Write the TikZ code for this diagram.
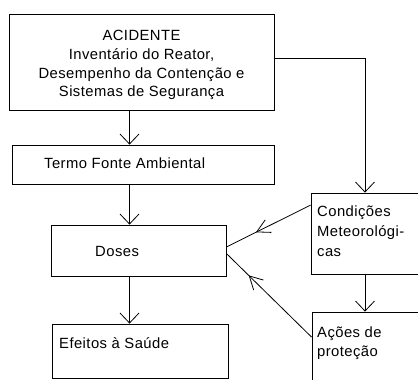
\documentclass[tikz,border=0pt]{standalone}
\usepackage{fontspec}
\setmainfont{Liberation Sans}[LetterSpace=3]
\usetikzlibrary{arrows.meta,decorations.markings,calc}
\begin{document}
\begin{tikzpicture}[x=1pt,y=-1pt,
  box/.style={draw,line width=0.8pt,inner sep=0pt,rectangle},
  txt/.style={anchor=base west,inner sep=0pt,font=\fontsize{14.8}{18}\selectfont},
  ctxt/.style={anchor=base,inner sep=0pt,font=\fontsize{14.8}{18}\selectfont},
  conn/.style={line width=0.8pt},
  arr/.style={conn,-{Straight Barb[length=10pt,width=19pt,line width=0.8pt]}},
  midarr/.style={conn,postaction={decorate},decoration={markings,
     mark=at position #1 with {\arrow{Straight Barb[length=13pt,width=14pt,line width=0.8pt]}}}}]
\useasboundingbox (0,0) rectangle (418,380);
\clip (0,0) rectangle (418,380);
% boxes
\node[box,minimum width=265pt,minimum height=96pt] (acid) at (141.5,62) {};
\node[box,minimum width=262pt,minimum height=39pt] (termo) at (143,164.5) {};
\node[box,minimum width=175pt,minimum height=51pt] (doses) at (138.5,250.5) {};
\node[box,minimum width=176pt,minimum height=54pt] (efeitos) at (140,351) {};
\node[box,minimum width=139pt,minimum height=81pt] (cond) at (380.5,233.5) {};
\node[box,minimum width=138pt,minimum height=98pt] (acoes) at (381,361) {};
% texts
\node[ctxt] (a1) at (141.5,40.7) {ACIDENTE};
\node[ctxt] (a2) at (141.5,59.4) {Inventário do Reator,};
\node[ctxt] (a3) at (141.5,78.1) {Desempenho da Contenção e};
\node[ctxt] (a4) at (141.5,96.8) {Sistemas de Segurança};
\node[txt] (t1) at (44,168) {Termo Fonte Ambiental};
\node[txt] (d1) at (95,256.5) {Doses};
\node[txt] (e1) at (59,348) {Efeitos à Saúde};
\node[txt] (c1) at (317,216.7) {Condições};
\node[txt] (c2) at (317,236.7) {Meteorológi-};
\node[txt] (c3) at (317,256.7) {cas};
\node[txt] (p1) at (317,337.3) {Ações de};
\node[txt] (p2) at (317,356.7) {proteção};
% helper coordinates
\coordinate (xl) at (129.5,0);
\coordinate (xr) at (365,0);
\coordinate (yt) at (0,58);
\coordinate (s1) at ($(cond.north west)+(0,12.5)$);
\coordinate (e1d) at ($(doses.east)+(0,-3.5)$);
\coordinate (s2) at ($(acoes.north west)+(0,25.5)$);
\coordinate (e2d) at ($(doses.east)+(0,3)$);
% connectors
\draw[arr] (acid.south -| xl) -- (termo.north -| xl);
\draw[arr] (termo.south -| xl) -- (doses.north -| xl);
\draw[arr] (doses.south -| xl) -- (efeitos.north -| xl);
\draw[arr] (acid.east |- yt) -| (cond.north -| xr);
\draw[arr] (cond.south -| xr) -- (acoes.north -| xr);
\draw[midarr=0.65] (s1) -- (e1d);
\draw[midarr=0.74] (s2) -- (e2d);
\end{tikzpicture}
\end{document}
